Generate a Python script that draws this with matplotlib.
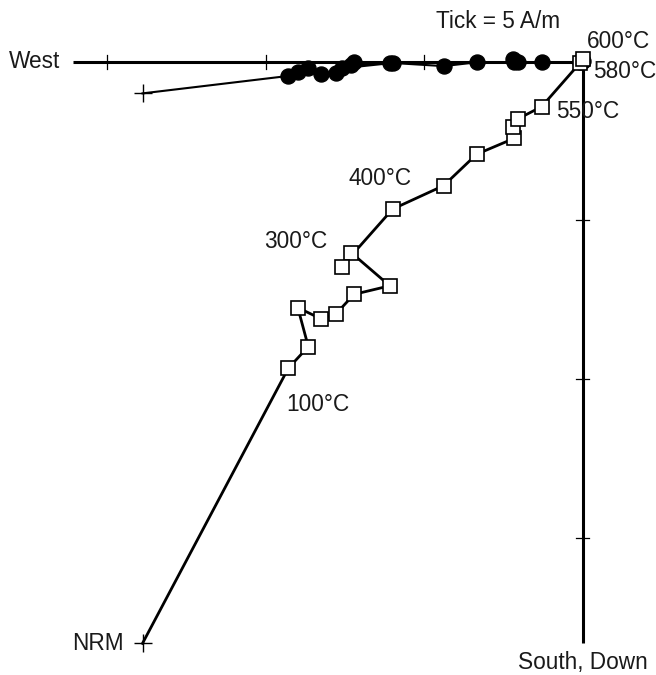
import matplotlib
matplotlib.use("Agg")
import matplotlib.pyplot as plt

plt.rcParams['font.family'] = ['Liberation Sans', 'DejaVu Sans']

# Demagnetization steps (NRM, then thermal steps), components in A/m
east = [-13.88, -9.28, -8.65, -8.98, -8.25, -7.78, -7.21, -6.08, -7.29, -7.60,
        -5.99, -4.38, -3.34, -2.16, -2.19, -2.05, -1.29, -0.08, 0.02]
north = [-0.99, -0.44, -0.20, -0.31, -0.38, -0.34, -0.01, -0.04, -0.09, -0.20,
         -0.03, -0.13, -0.01, -0.01, 0.09, -0.01, -0.01, 0.00, 0.03]
down = [18.34, 9.66, 8.98, 7.75, 8.10, 7.95, 7.33, 7.06, 6.02, 6.46,
        4.64, 3.90, 2.91, 2.41, 2.06, 1.80, 1.41, 0.03, -0.09]

tick_values = [5, 10, 15]
axis_extent_west = 16.08
axis_extent_down = 18.34

W, H = 656, 675
fig = plt.figure(figsize=(W / 100, H / 100), dpi=100)
ax = fig.add_axes([0, 0, 1, 1])
ax.axis('off')
scale = 31.7
ox, oy = 582.5, 62.0
ax.set_xlim(-ox / scale, (W - ox) / scale)
ax.set_ylim(-(H - oy) / scale, oy / scale)

# axes
ax.plot([-axis_extent_west, 0.05], [0, 0], color='black', lw=2.2, solid_capstyle='butt', zorder=1)
ax.plot([0, 0], [0.05, -axis_extent_down], color='black', lw=2.2, solid_capstyle='butt', zorder=1)
tl = 0.22
for v in tick_values:
    ax.plot([-v, -v], [-tl, tl], color='black', lw=0.9, zorder=1)
    ax.plot([-tl, tl], [-v, -v], color='black', lw=0.9, zorder=1)

# horizontal projection (circles)
ax.plot(east, north, color='black', lw=1.5, zorder=2)
ax.plot(east[1:], north[1:], 'o', color='black', ms=10.8, zorder=3)
ax.plot(east[:1], north[:1], '+', color='black', ms=13, mew=1.0, zorder=3)

# vertical projection (squares)
vy = [-d for d in down]
ax.plot(east, vy, color='black', lw=2.0, zorder=4)
ax.plot(east[1:], vy[1:], 's', mfc='white', mec='black', ms=10.2, mew=1.2, zorder=5)
ax.plot(east[:1], vy[:1], '+', color='black', ms=13, mew=1.0, zorder=5)

labels = ['Tick = 5 A/m', '600°C', '580°C', '550°C', '400°C', '300°C', '100°C',
          'NRM', 'South, Down', 'West']
pos = [(498, 22), (618, 42), (625, 71), (588, 112), (380, 178), (296, 242),
       (318, 404), (98, 643), (583, 663), (35, 61)]
for t, (px, py) in zip(labels, pos):
    fig.text(px / W, 1 - py / H, t, ha='center', va='center', fontsize=16.3, color='#1a1a1a')

fig.savefig('out.png', dpi=100)
